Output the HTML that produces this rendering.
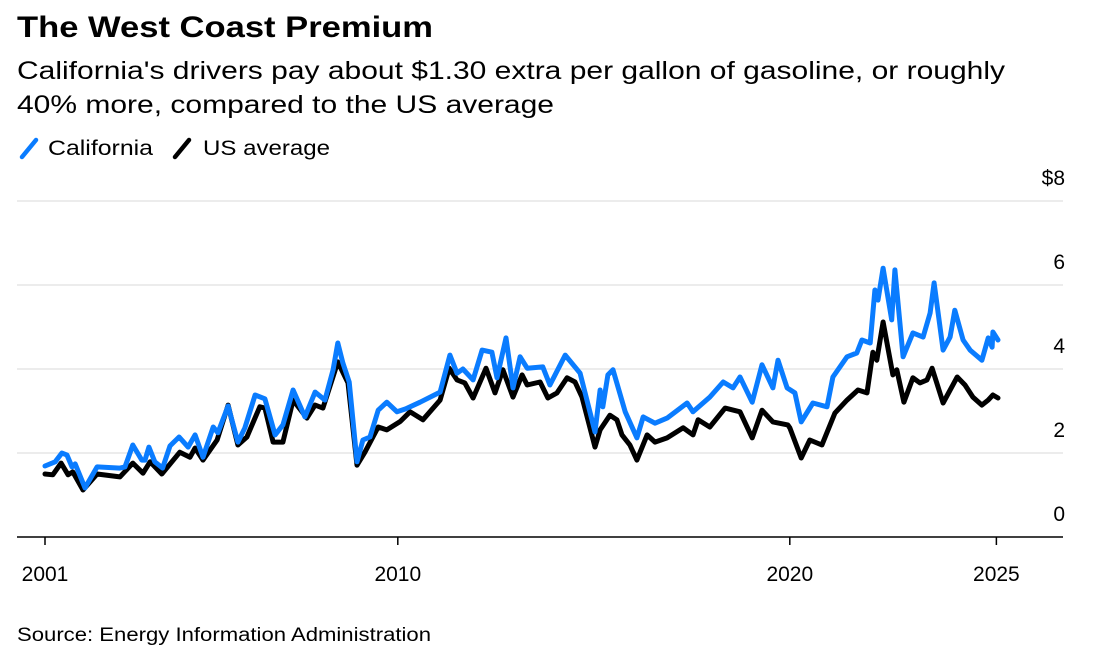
<!DOCTYPE html>
<html><head><meta charset="utf-8"><style>
html,body{margin:0;padding:0;background:#fff;}
svg{display:block;font-family:"Liberation Sans",Arial,sans-serif;}
</style></head><body>
<svg id="chart" width="1094" height="660" viewBox="0 0 1094 660">
<text x="17" y="37" font-size="30" font-weight="bold" fill="#000" textLength="416" lengthAdjust="spacingAndGlyphs">The West Coast Premium</text>
<text x="17" y="79" font-size="25" fill="#000" textLength="988" lengthAdjust="spacingAndGlyphs">California's drivers pay about $1.30 extra per gallon of gasoline, or roughly</text>
<text x="17" y="113" font-size="25" fill="#000" textLength="537" lengthAdjust="spacingAndGlyphs">40% more, compared to the US average</text>
<g>
<g>
<line x1="22" y1="157" x2="36" y2="140" stroke="#0a7cff" stroke-width="4.5" stroke-linecap="round"/>
<text x="48" y="155" font-size="21" fill="#000" textLength="105" lengthAdjust="spacingAndGlyphs">California</text>
</g>
<g>
<line x1="175" y1="157" x2="189" y2="140" stroke="#000" stroke-width="4.5" stroke-linecap="round"/>
<text x="203" y="155" font-size="21" fill="#000" textLength="127" lengthAdjust="spacingAndGlyphs">US average</text>
</g>
</g>
<g id="grid"></g>
<g id="yticks"></g>
<g id="xticks"></g>
<g id="series"></g>
<text x="17" y="641" font-size="19" fill="#000" textLength="414" lengthAdjust="spacingAndGlyphs">Source: Energy Information Administration</text>
</svg>
<script>
const yTicks = [0, 2, 4, 6, 8];
const yTickLabels = ["0", "2", "4", "6", "$8"];
const xTicks = [2001, 2010, 2020, 2025.27];
const xTickLabels = ["2001", "2010", "2020", "2025"];
const caYears = [2001.0,2001.26,2001.43,2001.56,2001.69,2001.77,2002.02,2002.33,2002.91,2003.04,2003.24,2003.47,2003.55,2003.65,2003.8,2004.0,2004.19,2004.42,2004.65,2004.83,2005.03,2005.29,2005.41,2005.67,2005.92,2006.1,2006.36,2006.61,2006.87,2007.07,2007.33,2007.63,2007.89,2008.14,2008.35,2008.47,2008.6,2008.76,2008.96,2009.11,2009.29,2009.5,2009.72,2009.98,2010.2,2010.57,2011.08,2011.33,2011.51,2011.66,2011.92,2012.15,2012.4,2012.53,2012.76,2012.94,2013.12,2013.3,2013.7,2013.88,2014.27,2014.65,2015.03,2015.16,2015.23,2015.36,2015.49,2015.8,2016.1,2016.26,2016.56,2016.87,2017.38,2017.53,2017.96,2018.3,2018.55,2018.73,2019.04,2019.29,2019.57,2019.7,2019.93,2020.13,2020.29,2020.59,2020.95,2021.1,2021.46,2021.71,2021.84,2022.05,2022.17,2022.25,2022.38,2022.6,2022.68,2022.89,2023.14,2023.4,2023.58,2023.68,2023.91,2024.09,2024.21,2024.42,2024.6,2024.9,2025.06,2025.16,2025.18,2025.31];
const caValues = [1.69,1.79,2.0,1.95,1.67,1.74,1.17,1.67,1.64,1.67,2.19,1.83,1.83,2.14,1.79,1.64,2.17,2.38,2.14,2.43,1.9,2.62,2.48,3.12,2.26,2.6,3.38,3.29,2.43,2.67,3.5,2.86,3.45,3.26,3.98,4.62,4.14,3.69,1.79,2.31,2.38,3.02,3.21,2.98,3.05,3.21,3.45,4.33,3.9,4.0,3.74,4.45,4.4,3.79,4.74,3.55,4.29,4.02,4.05,3.62,4.33,3.9,2.5,3.5,3.1,3.86,3.98,2.98,2.36,2.86,2.71,2.83,3.19,2.98,3.33,3.69,3.55,3.81,3.21,4.1,3.55,4.21,3.55,3.43,2.74,3.19,3.1,3.81,4.29,4.38,4.69,4.62,5.88,5.64,6.4,5.17,6.36,4.29,4.86,4.76,5.33,6.05,4.45,4.76,5.4,4.69,4.45,4.21,4.74,4.52,4.88,4.69];
const usYears = [2001.0,2001.2,2001.41,2001.59,2001.71,2001.97,2002.33,2002.91,2003.24,2003.5,2003.68,2003.98,2004.44,2004.7,2004.83,2005.03,2005.39,2005.67,2005.92,2006.15,2006.48,2006.61,2006.82,2007.07,2007.33,2007.68,2007.89,2008.09,2008.47,2008.73,2008.96,2009.16,2009.5,2009.72,2010.06,2010.31,2010.64,2011.08,2011.31,2011.51,2011.71,2011.92,2012.25,2012.48,2012.68,2012.94,2013.17,2013.3,2013.63,2013.83,2014.06,2014.32,2014.52,2014.7,2015.03,2015.16,2015.41,2015.59,2015.72,2015.92,2016.1,2016.36,2016.56,2016.87,2017.28,2017.53,2017.66,2017.96,2018.35,2018.73,2019.04,2019.29,2019.57,2019.95,2020.0,2020.29,2020.51,2020.82,2021.15,2021.46,2021.74,2021.97,2022.12,2022.22,2022.38,2022.63,2022.73,2022.91,2023.14,2023.32,2023.5,2023.63,2023.91,2024.27,2024.47,2024.67,2024.9,2025.06,2025.18,2025.31];
const usValues = [1.5,1.48,1.76,1.48,1.55,1.12,1.5,1.43,1.76,1.52,1.79,1.5,2.02,1.9,2.12,1.83,2.31,3.14,2.19,2.38,3.1,3.07,2.26,2.26,3.26,2.83,3.14,3.07,4.17,3.67,1.71,2.02,2.62,2.55,2.75,2.98,2.79,3.26,4.02,3.74,3.67,3.31,4.02,3.43,3.98,3.33,3.86,3.62,3.69,3.31,3.43,3.79,3.69,3.33,2.14,2.55,2.9,2.79,2.43,2.19,1.83,2.43,2.26,2.36,2.6,2.43,2.79,2.62,3.07,2.98,2.36,3.02,2.74,2.67,2.6,1.88,2.31,2.19,2.95,3.26,3.5,3.43,4.4,4.21,5.12,3.86,3.98,3.21,3.79,3.67,3.74,4.02,3.19,3.81,3.62,3.33,3.14,3.26,3.38,3.31];

const NS = "http://www.w3.org/2000/svg";
function xScale(yr){ return 45 + (yr - 2001) * 39.2; }
function yScale(v){ return 537 - v * 42; }

const grid = document.getElementById('grid');
const yt = document.getElementById('yticks');
yTicks.forEach((t, i) => {
  if (t !== 0) {
    const l = document.createElementNS(NS, 'line');
    
    
    l.setAttribute('x1', 17); l.setAttribute('x2', 1063);
    l.setAttribute('y1', yScale(t)); l.setAttribute('y2', yScale(t));
    l.setAttribute('stroke', '#e6e6e6'); l.setAttribute('stroke-width', '1.5');
    grid.appendChild(l);
  }
  const tx = document.createElementNS(NS, 'text');
  
  
  tx.setAttribute('x', 1065); tx.setAttribute('y', yScale(t) - 16);
  tx.setAttribute('text-anchor', 'end'); tx.setAttribute('font-size', '21');
  tx.textContent = yTickLabels[i];
  yt.appendChild(tx);
});

const xt = document.getElementById('xticks');
const axis = document.createElementNS(NS, 'line');


axis.setAttribute('x1', 17); axis.setAttribute('x2', 1063);
axis.setAttribute('y1', 537); axis.setAttribute('y2', 537);
axis.setAttribute('stroke', '#000'); axis.setAttribute('stroke-width', '1.5');
xt.appendChild(axis);
xTicks.forEach((t, i) => {
  const tk = document.createElementNS(NS, 'line');
  
  
  tk.setAttribute('x1', xScale(t)); tk.setAttribute('x2', xScale(t));
  tk.setAttribute('y1', 537); tk.setAttribute('y2', 545);
  tk.setAttribute('stroke', '#000'); tk.setAttribute('stroke-width', '1.5');
  xt.appendChild(tk);
  const tx = document.createElementNS(NS, 'text');
  
  
  tx.setAttribute('x', xScale(t)); tx.setAttribute('y', 581);
  tx.setAttribute('text-anchor', 'middle'); tx.setAttribute('font-size', '21');
  tx.textContent = xTickLabels[i];
  xt.appendChild(tx);
});

const series = document.getElementById('series');
function drawLine(xs, vs, color, name){
  const p = document.createElementNS(NS, 'path');
  
  
  p.setAttribute('d', xs.map((x, i) => (i ? 'L' : 'M') + xScale(x).toFixed(1) + ',' + yScale(vs[i]).toFixed(1)).join(''));
  p.setAttribute('fill', 'none'); p.setAttribute('stroke', color);
  p.setAttribute('stroke-width', '5'); p.setAttribute('stroke-linejoin', 'round'); p.setAttribute('stroke-linecap', 'round');
  series.appendChild(p);
}
drawLine(usYears, usValues, '#000', 'us-average-line');
drawLine(caYears, caValues, '#0a7cff', 'california-line');
</script>
</body></html>
